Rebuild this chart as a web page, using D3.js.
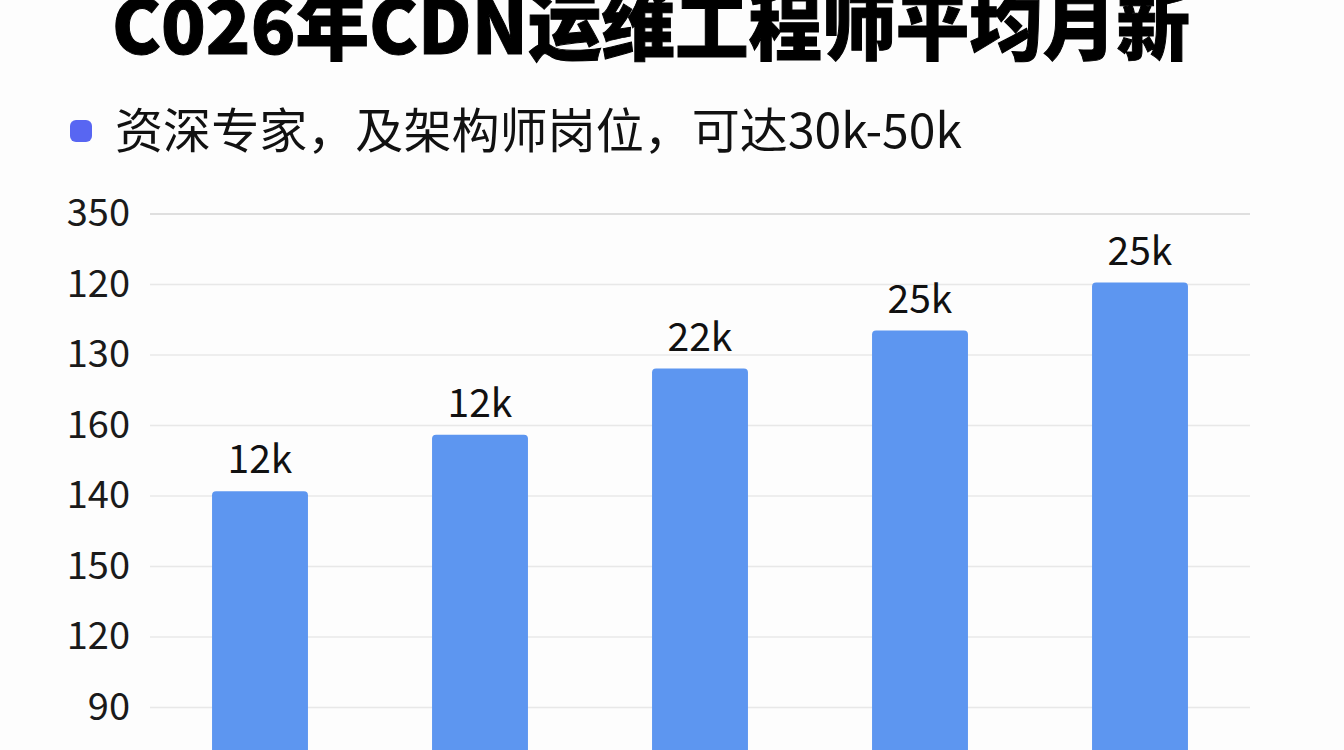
<!DOCTYPE html>
<html>
<head>
<meta charset="utf-8">
<script src="https://cdn.jsdelivr.net/npm/d3@7"></script>
<style>
  html, body { margin: 0; padding: 0; background: #fdfdfd; overflow: hidden; }
  text { font-family: "Noto Sans CJK SC", "Noto Sans", sans-serif; }
</style>
</head>
<body>
<script>
var w = 1344;
var h = 750;

var titleText = "C026年CDN运维工程师平均月新";
var legendText = "资深专家，及架构师岗位，可达30k-50k";

var categories = ["A", "B", "C", "D", "E"];
var salaryValues = [203, 243, 290, 317, 351];
var barLabels = ["12k", "12k", "22k", "25k", "25k"];

var tickValues = [400, 350, 300, 250, 200, 150, 100, 50];
var tickLabels = ["350", "120", "130", "160", "140", "150", "120", "90"];

var svg = d3.select("body")
    .append("svg")
    .attr("width", w)
    .attr("height", h);

svg.append("rect")
    .attr("width", w)
    .attr("height", h)
    .style("fill", "#fdfdfd");

// scales
var x = d3.scaleBand()
    .domain(categories)
    .range([150, 1250])
    .paddingInner(0.564)
    .paddingOuter(0.282);

var y = d3.scaleLinear()
    .domain([0, 400])
    .range([777.5, 213.5]);

// title, cut at the top like the picture
svg.append("text")
    .attr("x", 112)
    .attr("y", 54)
    .attr("textLength", 1078)
    .attr("lengthAdjust", "spacingAndGlyphs")
    .style("font-size", "75px")
    .style("font-weight", 900)
    .style("fill", "#000")
    .style("stroke", "#000")
    .style("stroke-width", 1)
    .text(titleText);

// legend
svg.append("rect")
    .attr("x", 70)
    .attr("y", 120)
    .attr("width", 22)
    .attr("height", 22)
    .attr("rx", 6)
    .style("fill", "#5866f2");

svg.append("text")
    .attr("x", 115)
    .attr("y", 148)
    .attr("textLength", 847)
    .attr("lengthAdjust", "spacingAndGlyphs")
    .style("font-size", "48px")
    .style("fill", "#111")
    .text(legendText);

// grid lines + tick labels
var yAxis = d3.axisLeft(y)
    .tickValues(tickValues)
    .tickSize(1100)
    .tickPadding(20)
    .tickFormat(function(d, i){ return tickLabels[i]; });

var axisG = svg.append("g")
    .attr("transform", "translate(1250,0)")
    .call(yAxis);

axisG.select(".domain").remove();
axisG.selectAll(".tick line")
    .style("stroke", function(d, i){ return i === 0 ? "#d4d4d4" : "#e8e8e8"; })
    .style("stroke-width", 1.5);
axisG.selectAll(".tick text")
    .style("font-size", "38px")
    .style("fill", "#1a1a1a")
    .style("font-family", "'Noto Sans CJK SC', 'Noto Sans', sans-serif");

// bars
svg.selectAll(".bar")
    .data(salaryValues)
    .enter()
    .append("rect")
    .attr("class", "bar")
    .attr("x", function(d, i){ return x(categories[i]); })
    .attr("y", function(d){ return y(d); })
    .attr("width", x.bandwidth())
    .attr("height", function(d){ return y(0) - y(d) + 10; })
    .attr("rx", 4)
    .style("fill", "#5d96f0");

// value labels
svg.selectAll(".barLabel")
    .data(salaryValues)
    .enter()
    .append("text")
    .attr("class", "barLabel")
    .attr("x", function(d, i){ return x(categories[i]) + x.bandwidth() / 2; })
    .attr("y", function(d){ return y(d) - 18; })
    .attr("text-anchor", "middle")
    .style("font-size", "39px")
    .style("fill", "#111")
    .text(function(d, i){ return barLabels[i]; });
</script>
</body>
</html>
